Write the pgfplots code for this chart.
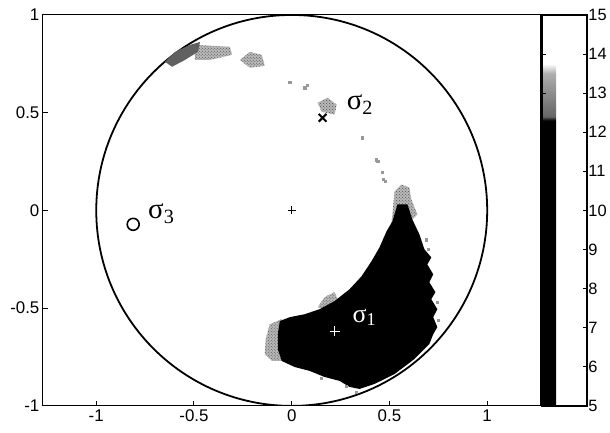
\documentclass[border=0pt]{standalone}
\usepackage{fontspec}
\setmainfont{Liberation Sans}
\newfontfamily\serif{Liberation Serif}
\usepackage{pgfplots}
\pgfplotsset{compat=1.18}
\usetikzlibrary{patterns}
\begin{document}
\begin{tikzpicture}
\begin{axis}[name=main, scale only axis, width=499bp, height=392bp,
 xmin=-1.273, xmax=1.273, ymin=-1, ymax=1,
 xtick={-1,-0.5,0,0.5,1}, xticklabels={-1,-0.5,0,0.5,1},
 ytick={-1,-0.5,0,0.5,1}, yticklabels={-1,-0.5,0,0.5,1},
 tick pos=left, tick align=inside, major tick length=5bp,
 tick label style={font=\fontsize{17}{19}\selectfont},
 axis line style={line width=1bp},
 every tick/.style={black, line width=1bp},
 colormap={scan}{gray(0cm)=(0); gray(7.3cm)=(0); gray(7.4cm)=(0.4); gray(8.0cm)=(0.55); gray(8.5cm)=(0.68); gray(8.75cm)=(1); gray(10cm)=(1)},
 point meta min=5, point meta max=15,
 colorbar,
 colorbar style={at={(parent axis.north east)}, anchor=north west, xshift=-7bp,
   width=45bp, height=392bp,
   ytick={5,6,...,15}, yticklabels={5,6,7,8,9,10,11,12,13,14,15},
   tick pos=both, yticklabel pos=right, tick align=inside,
   major tick length=4bp,
   axis line style={line width=2.2bp},
   every tick/.style={black, line width=1bp},
   tick label style={font=\fontsize{16.5}{19}\selectfont},
   yticklabel style={xshift=-2bp}},
 speck/.style={fill=gray!55, draw=none, postaction={pattern=crosshatch dots, pattern color=black!70}},
]
% stereonet outline
\draw[line width=1.8bp] (axis cs:0,0) ellipse [x radius=1, y radius=1];
% grey speckle regions
\addplot[speck] coordinates {(-0.495,0.847) (-0.316,0.837) (-0.306,0.796) (-0.418,0.770) (-0.495,0.770)};
\addplot[fill=gray!75!black, draw=none] coordinates {(-0.648,0.760) (-0.597,0.811) (-0.520,0.847) (-0.469,0.862) (-0.480,0.811) (-0.546,0.770) (-0.612,0.735)};
\addplot[speck] coordinates {(-0.265,0.770) (-0.214,0.811) (-0.153,0.796) (-0.138,0.740) (-0.214,0.730)};
\addplot[speck] coordinates {(0.133,0.551) (0.184,0.577) (0.230,0.541) (0.219,0.490) (0.153,0.505)};
\addplot[speck] coordinates {(0.526,0.097) (0.561,0.133) (0.602,0.117) (0.612,0.056) (0.643,-0.020) (0.592,-0.071) (0.510,-0.071) (0.520,0.031)};
\addplot[speck] coordinates {(-0.051,-0.556) (-0.112,-0.582) (-0.133,-0.658) (-0.138,-0.735) (-0.102,-0.770) (-0.051,-0.770)};
\addplot[speck] coordinates {(0.133,-0.495) (0.168,-0.444) (0.219,-0.418) (0.235,-0.454) (0.168,-0.505)};
\addplot[only marks, mark=square*, mark size=1.1bp, gray!80] coordinates {(-0.010,0.658) (0.066,0.628) (0.080,0.640) (0.362,0.372) (0.434,0.260) (0.440,0.250) (0.464,0.194) (0.469,0.158) (0.480,0.150) (0.150,-0.860) (0.280,-0.900) (0.330,-0.930) (0.745,-0.470) (0.750,-0.560) (0.700,-0.200) (0.690,-0.150)};
% dark region
\addplot[fill=black, draw=none] coordinates {
 (0.515,-0.056) (0.541,0.031) (0.592,0.031) (0.617,-0.046) (0.653,-0.122) (0.679,-0.199)
 (0.714,-0.240) (0.694,-0.276) (0.724,-0.327) (0.704,-0.367) (0.735,-0.418) (0.714,-0.454)
 (0.745,-0.505) (0.724,-0.546) (0.745,-0.597) (0.724,-0.633)
 (0.704,-0.684) (0.628,-0.760) (0.526,-0.837) (0.423,-0.888) (0.347,-0.913)
 (0.296,-0.903) (0.245,-0.872) (0.168,-0.852) (0.092,-0.821) (0.015,-0.801) (-0.051,-0.770)
 (-0.071,-0.709) (-0.071,-0.633) (-0.061,-0.566)
 (-0.010,-0.546) (0.066,-0.531) (0.143,-0.505) (0.219,-0.464) (0.296,-0.403) (0.357,-0.337)
 (0.408,-0.260) (0.449,-0.189) (0.485,-0.107)};
% principal stress markers
\addplot[only marks, mark=+, mark size=4bp, line width=1bp, black] coordinates {(0,0)};
\addplot[only marks, mark=x, mark size=5.5bp, line width=2bp, black] coordinates {(0.158,0.474)};
\addplot[only marks, mark=o, mark size=6bp, line width=1.6bp, black] coordinates {(-0.811,-0.071)};
\addplot[only marks, mark=+, mark size=5bp, line width=0.8bp, white] coordinates {(0.219,-0.617)};
\node[anchor=base west, inner sep=0pt, font=\serif\fontsize{29}{30}\selectfont] at (axis cs:0.281,0.515) {σ\textsubscript{2}};
\node[anchor=base west, inner sep=0pt, font=\serif\fontsize{29}{30}\selectfont] at (axis cs:-0.735,-0.041) {σ\textsubscript{3}};
\node[anchor=base west, inner sep=0pt, white, font=\serif\fontsize{26}{28}\selectfont] at (axis cs:0.311,-0.571) {σ\textsubscript{1}};
\end{axis}
\path (main.south west) ++(-43bp,-27bp) rectangle ++(610bp,434bp);
\end{tikzpicture}
\end{document}
